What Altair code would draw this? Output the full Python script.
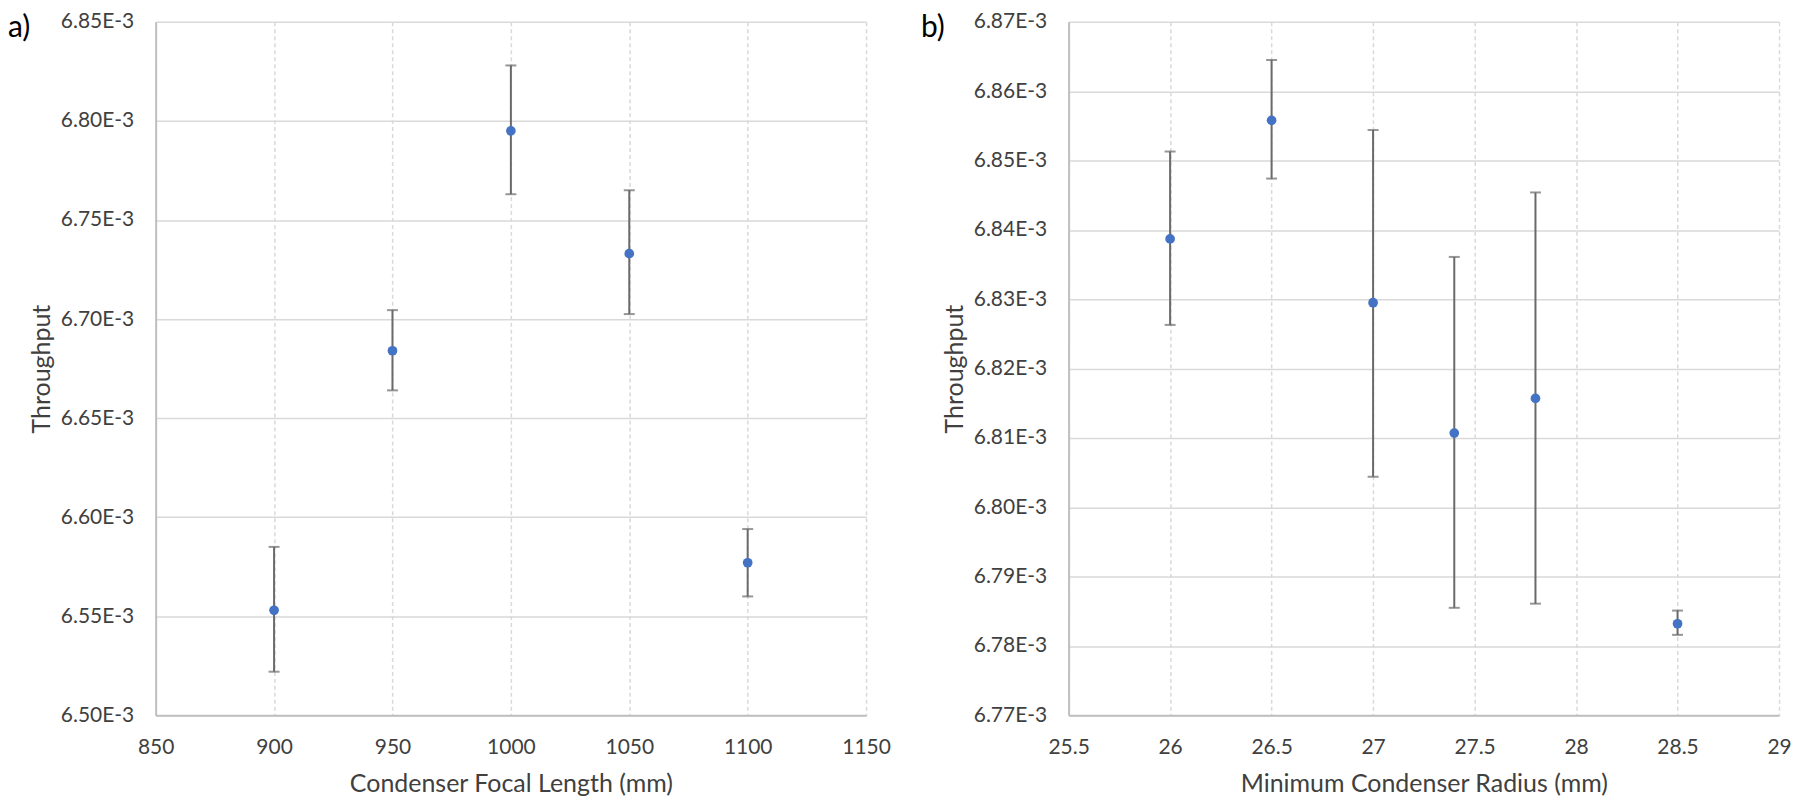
import altair as alt
import pandas as pd

# ---- Panel a) data ----
focal_length = [900, 950, 1000, 1050, 1100]
throughput_a = [6.553e-3, 6.684e-3, 6.795e-3, 6.733e-3, 6.577e-3]
lower_a = [6.522e-3, 6.664e-3, 6.763e-3, 6.7025e-3, 6.560e-3]
upper_a = [6.585e-3, 6.7045e-3, 6.828e-3, 6.765e-3, 6.594e-3]
xticks_a = [850, 900, 950, 1000, 1050, 1100, 1150]
yticks_a = [6.50e-3, 6.55e-3, 6.60e-3, 6.65e-3, 6.70e-3, 6.75e-3, 6.80e-3, 6.85e-3]

# ---- Panel b) data ----
min_radius = [26, 26.5, 27, 27.4, 27.8, 28.5]
throughput_b = [6.8387e-3, 6.8558e-3, 6.8295e-3, 6.8107e-3, 6.8157e-3, 6.7832e-3]
lower_b = [6.8263e-3, 6.8474e-3, 6.8044e-3, 6.7855e-3, 6.7861e-3, 6.7816e-3]
upper_b = [6.8513e-3, 6.8645e-3, 6.8544e-3, 6.8361e-3, 6.8454e-3, 6.7851e-3]
xticks_b = [25.5, 26, 26.5, 27, 27.5, 28, 28.5, 29]
yticks_b = [6.77e-3, 6.78e-3, 6.79e-3, 6.80e-3, 6.81e-3, 6.82e-3, 6.83e-3, 6.84e-3,
            6.85e-3, 6.86e-3, 6.87e-3]

W = 712
H = 695
BLUE = "#4472C4"
ERR = "#6a6a6a"
FONT = "Lato"


def panel(xs, ys, lo, hi, xticks, yticks, xtitle, letter, xlabel_expr):
    df = pd.DataFrame({"x": xs, "y": ys, "lo": lo, "hi": hi})
    xscale = alt.Scale(domain=[xticks[0], xticks[-1]], nice=False, zero=False)
    yscale = alt.Scale(domain=[yticks[0], yticks[-1]], nice=False, zero=False)
    xaxis = alt.Axis(values=xticks, title=xtitle, labelExpr=xlabel_expr,
                     gridDash=[4, 3], labelPadding=21, titlePadding=14,
                     labelFlush=False)
    yaxis = alt.Axis(values=yticks, title="Throughput",
                     labelExpr="format(datum.value * 1000, '.2f') + 'E-3'",
                     labelPadding=22, titleX=-114,
                     titleBaseline="middle", labelFlush=False)

    def X():
        return alt.X("x:Q", scale=xscale, axis=xaxis, title=xtitle)

    def Y(field):
        return alt.Y(f"{field}:Q", scale=yscale, axis=yaxis, title="Throughput")

    base = alt.Chart(df)
    rules = base.mark_rule(color=ERR, strokeWidth=2).encode(
        x=X(), y=Y("lo"), y2="hi:Q")
    cap_lo = base.mark_tick(orient="horizontal", size=11, thickness=2, color=ERR).encode(
        x=X(), y=Y("lo"))
    cap_hi = base.mark_tick(orient="horizontal", size=11, thickness=2, color=ERR).encode(
        x=X(), y=Y("hi"))
    pts = base.mark_circle(size=95, color=BLUE, opacity=1).encode(x=X(), y=Y("y"))
    lab = alt.Chart(pd.DataFrame({"t": [letter]})).mark_text(
        font=FONT, fontSize=30, color="#000000", align="left", baseline="middle"
    ).encode(text="t:N", x=alt.value(-148), y=alt.value(6))
    return alt.layer(rules, cap_lo, cap_hi, pts, lab).properties(width=W, height=H)


left = panel(focal_length, throughput_a, lower_a, upper_a, xticks_a, yticks_a,
             "Condenser Focal Length (mm)", "a)", "format(datum.value, 'd')")
right = panel(min_radius, throughput_b, lower_b, upper_b, xticks_b, yticks_b,
              "Minimum Condenser Radius (mm)", "b)", "format(datum.value, '~g')")

chart = alt.hconcat(left, right, spacing=30).properties(
    padding={"left": 0, "top": 2, "right": 0, "bottom": 0}
).configure_view(strokeWidth=0).configure_axis(
    labelFont=FONT, titleFont=FONT, labelFontSize=21, titleFontSize=25,
    labelColor="#404040", titleColor="#404040", titleFontWeight="normal",
    gridColor="#d9d9d9", gridWidth=1.5, domainColor="#bfbfbf", domainWidth=2,
    ticks=False, tickSize=0
)

chart.save("out.html", embed_options={"renderer": "svg", "actions": False})
